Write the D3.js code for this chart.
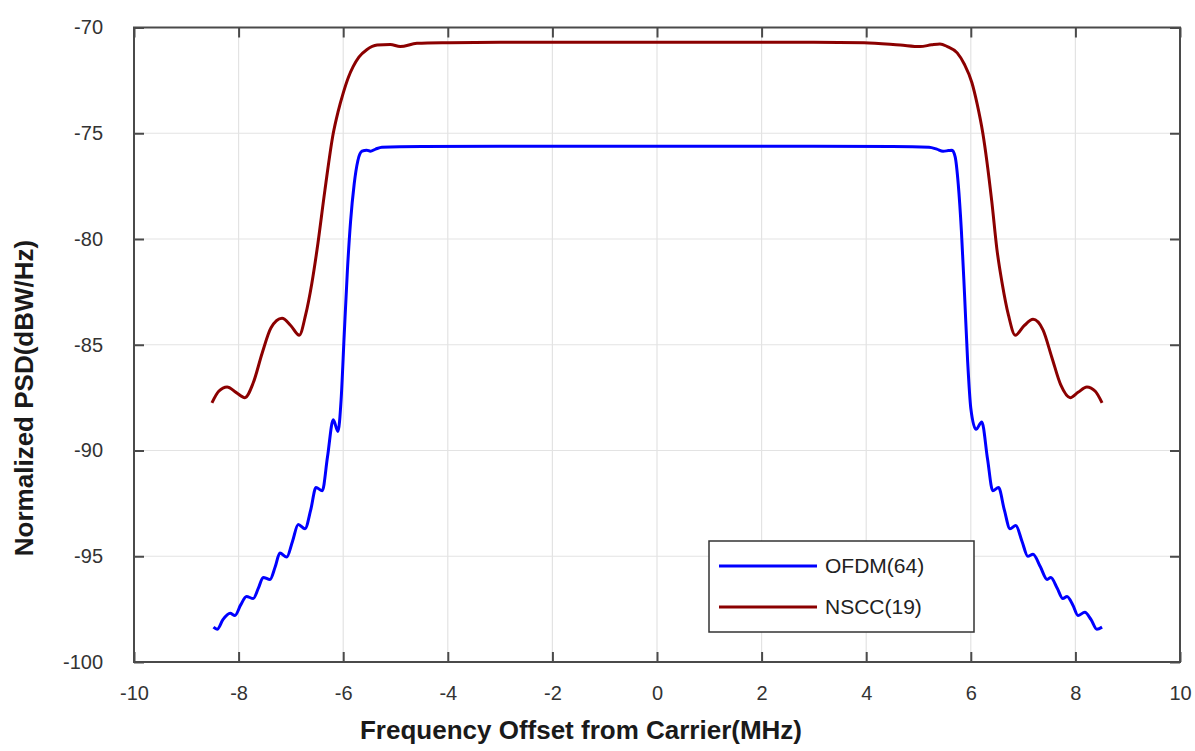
<!DOCTYPE html>
<html>
<head>
<meta charset="utf-8">
<script src="https://cdn.jsdelivr.net/npm/d3@7"></script>
<style>
  html, body { margin: 0; padding: 0; background: #fff; }
  svg { display: block; font-family: "Liberation Sans", Arial, sans-serif; }
</style>
</head>
<body>
<svg id="chart" width="1195" height="751"></svg>
<script>
// Frequency offset (MHz) and normalized PSD (dBW/Hz) for each waveform
const ofdmFreq = [-8.48, -8.41, -8.30, -8.16, -8.07, -7.96, -7.85, -7.72, -7.62, -7.53, -7.40, -7.30, -7.21, -7.08, -6.97, -6.86, -6.73, -6.62, -6.52, -6.40, -6.30, -6.19, -6.10, -6.04, -5.98, -5.92, -5.86, -5.79, -5.72, -5.64, -5.55, -5.48, -5.38, -5.26, -4.5, -3.0, -1.5, 0, 1.5, 3.0, 4.5, 5.2, 5.35, 5.47, 5.57, 5.64, 5.70, 5.76, 5.82, 5.88, 5.94, 6.00, 6.10, 6.21, 6.32, 6.42, 6.53, 6.64, 6.75, 6.86, 6.98, 7.09, 7.19, 7.33, 7.46, 7.53, 7.65, 7.76, 7.84, 7.95, 8.05, 8.18, 8.30, 8.41, 8.51];
const ofdmPsd  = [-98.35, -98.45, -98.0, -97.7, -97.8, -97.3, -96.9, -97.0, -96.5, -96.0, -96.1, -95.5, -94.85, -95.04, -94.3, -93.5, -93.7, -92.8, -91.75, -91.9, -90.3, -88.55, -89.1, -87.6, -84.5, -81.5, -79.2, -77.4, -76.3, -75.85, -75.8, -75.85, -75.75, -75.66, -75.63, -75.62, -75.62, -75.62, -75.62, -75.62, -75.63, -75.66, -75.75, -75.85, -75.82, -75.8, -76.1, -77.4, -79.6, -82.6, -85.8, -88.0, -89.0, -88.65, -90.4, -91.9, -91.75, -92.8, -93.7, -93.55, -94.3, -95.0, -94.9, -95.5, -96.1, -96.0, -96.5, -97.0, -96.9, -97.3, -97.8, -97.65, -98.0, -98.45, -98.35];

const nsccFreq = [-8.51, -8.38, -8.22, -8.05, -7.88, -7.72, -7.55, -7.38, -7.17, -7.00, -6.84, -6.72, -6.60, -6.50, -6.35, -6.19, -6.10, -6.00, -5.90, -5.81, -5.70, -5.55, -5.35, -5.10, -4.91, -4.59, -3.96, -3.0, -1.5, 0, 1.5, 3.0, 3.96, 4.65, 5.03, 5.25, 5.41, 5.55, 5.74, 5.88, 6.02, 6.12, 6.23, 6.40, 6.50, 6.60, 6.72, 6.85, 7.02, 7.19, 7.38, 7.55, 7.72, 7.90, 8.05, 8.22, 8.38, 8.51];
const nsccPsd  = [-87.75, -87.2, -87.0, -87.25, -87.5, -86.8, -85.4, -84.2, -83.75, -84.1, -84.55, -83.6, -82.1, -80.5, -77.7, -75.0, -74.0, -73.1, -72.35, -71.85, -71.4, -71.05, -70.83, -70.8, -70.9, -70.75, -70.72, -70.7, -70.7, -70.7, -70.7, -70.7, -70.72, -70.83, -70.9, -70.82, -70.78, -70.9, -71.2, -71.75, -72.6, -73.6, -75.0, -78.2, -80.5, -82.1, -83.6, -84.55, -84.1, -83.8, -84.3, -85.6, -86.9, -87.5, -87.25, -87.0, -87.2, -87.75];

const xTicks = [-10, -8, -6, -4, -2, 0, 2, 4, 6, 8, 10];
const yTicks = [-100, -95, -90, -85, -80, -75, -70];
const seriesNames = ["OFDM(64)", "NSCC(19)"];
const seriesColors = ["#0000ff", "#8b0000"];

const svg = d3.select("#chart");
const plot = { left: 134, right: 1180, top: 27.5, bottom: 662 };

const x = d3.scaleLinear().domain([-10, 10]).range([plot.left, plot.right]);
const y = d3.scaleLinear().domain([-100, -70]).range([plot.bottom, plot.top]);

// grid lines
const grid = svg.append("g").attr("stroke", "#e3e3e3").attr("stroke-width", 1.2);
grid.selectAll(".gx").data(xTicks.slice(1, -1)).join("line")
  .attr("x1", d => x(d)).attr("x2", d => x(d))
  .attr("y1", plot.top).attr("y2", plot.bottom);
grid.selectAll(".gy").data(yTicks.slice(1, -1)).join("line")
  .attr("x1", plot.left).attr("x2", plot.right)
  .attr("y1", d => y(d)).attr("y2", d => y(d));

// axes with inward ticks on all four sides
const axisColor = "#4a4a4a";
const plain = d => String(d);
function styleAxis(g) {
  g.select(".domain").remove();
  g.selectAll(".tick line").attr("stroke", axisColor).attr("stroke-width", 2);
  g.selectAll(".tick text").attr("fill", "#333").style("font-size", "20px")
    .style("font-family", "'Liberation Sans', Arial, sans-serif");
}
svg.append("g").attr("transform", `translate(0,${plot.bottom})`)
  .call(d3.axisBottom(x).tickValues(xTicks).tickFormat(plain).tickSizeInner(-10).tickSizeOuter(0).tickPadding(24))
  .call(styleAxis);
svg.append("g").attr("transform", `translate(0,${plot.top})`)
  .call(d3.axisTop(x).tickValues(xTicks).tickSizeInner(-10).tickSizeOuter(0).tickFormat(""))
  .call(styleAxis);
svg.append("g").attr("transform", `translate(${plot.left},0)`)
  .call(d3.axisLeft(y).tickValues(yTicks).tickFormat(plain).tickSizeInner(-10).tickSizeOuter(0).tickPadding(31))
  .call(styleAxis);
svg.append("g").attr("transform", `translate(${plot.right},0)`)
  .call(d3.axisRight(y).tickValues(yTicks).tickSizeInner(-10).tickSizeOuter(0).tickFormat(""))
  .call(styleAxis);

svg.append("rect")
  .attr("x", plot.left).attr("y", plot.top)
  .attr("width", plot.right - plot.left).attr("height", plot.bottom - plot.top)
  .attr("fill", "none").attr("stroke", axisColor).attr("stroke-width", 2);

// PSD curves
const line = d3.line().curve(d3.curveMonotoneX).x(d => x(d[0])).y(d => y(d[1]));
const series = [
  d3.zip(ofdmFreq, ofdmPsd),
  d3.zip(nsccFreq, nsccPsd)
];
svg.append("g").selectAll("path").data(series).join("path")
  .attr("d", line)
  .attr("fill", "none")
  .attr("stroke", (d, i) => seriesColors[i])
  .attr("stroke-width", 3)
  .attr("stroke-linejoin", "round");

// legend
const legend = svg.append("g").attr("transform", "translate(709,541)");
legend.append("rect").attr("width", 265).attr("height", 91)
  .attr("fill", "#fff").attr("stroke", "#333").attr("stroke-width", 1.5);
const items = legend.selectAll(".item").data(seriesNames).join("g")
  .attr("transform", (d, i) => `translate(0,${25 + i * 41})`);
items.append("line").attr("x1", 10).attr("x2", 108)
  .attr("stroke", (d, i) => seriesColors[i]).attr("stroke-width", 3);
items.append("text").attr("x", 116).attr("dy", "0.35em")
  .attr("fill", "#222").style("font-size", "21px").text(d => d);

// axis titles
svg.append("text")
  .attr("x", 581).attr("y", 739)
  .attr("text-anchor", "middle")
  .style("font-size", "26px").style("font-weight", "bold").attr("fill", "#1a1a1a")
  .text("Frequency Offset from Carrier(MHz)");
svg.append("text")
  .attr("transform", "translate(33,398) rotate(-90)")
  .attr("text-anchor", "middle")
  .style("font-size", "26px").style("font-weight", "bold").attr("fill", "#1a1a1a")
  .text("Normalized PSD(dBW/Hz)");
</script>
</body>
</html>
